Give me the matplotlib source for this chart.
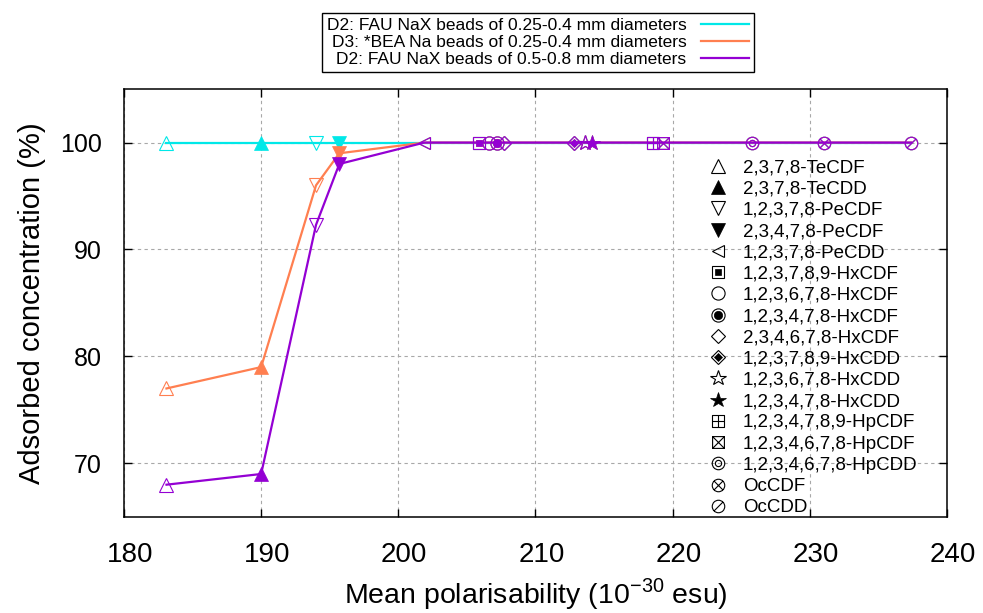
"""
Adsorbed concentration of PCDD/F congeners against mean polarisability.
"""
import matplotlib
matplotlib.use('Agg')
import matplotlib.pyplot as plt
import matplotlib.transforms as mtransforms
from matplotlib.lines import Line2D
from matplotlib.path import Path

plt.rcParams['font.family'] = ['Liberation Sans', 'DejaVu Sans']

congeners = ['2,3,7,8-TeCDF', '2,3,7,8-TeCDD', '1,2,3,7,8-PeCDF',
             '2,3,4,7,8-PeCDF', '1,2,3,7,8-PeCDD', '1,2,3,7,8,9-HxCDF',
             '1,2,3,6,7,8-HxCDF', '1,2,3,4,7,8-HxCDF', '2,3,4,6,7,8-HxCDF',
             '1,2,3,7,8,9-HxCDD', '1,2,3,6,7,8-HxCDD', '1,2,3,4,7,8-HxCDD',
             '1,2,3,4,7,8,9-HpCDF', '1,2,3,4,6,7,8-HpCDF',
             '1,2,3,4,6,7,8-HpCDD', 'OcCDF', 'OcCDD']
polarisability = [183.1, 190.0, 194.0, 195.7, 201.9, 205.9, 206.6, 207.2,
                  207.7, 212.8, 213.6, 214.1, 218.6, 219.3, 225.8, 231.0,
                  237.4]
fau_small = [100, 100, 100, 100, 100, 100, 100, 100, 100,
             100, 100, 100, 100, 100, 100, 100, 100]
bea_small = [77, 79, 96, 99, 100, 100, 100, 100, 100,
             100, 100, 100, 100, 100, 100, 100, 100]
fau_large = [68, 69, 92.3, 98, 100, 100, 100, 100, 100,
             100, 100, 100, 100, 100, 100, 100, 100]

series_labels = ['D2: FAU NaX beads of 0.25-0.4 mm diameters',
                 'D3: *BEA Na beads of 0.25-0.4 mm diameters',
                 'D2: FAU NaX beads of 0.5-0.8 mm diameters']
series_colors = ['#00e8e8', '#ff7f50', '#9400d3']


def compound(*parts):
    return Path.make_compound_path(*parts)


def seg(p0, p1):
    return Path([p0, p1], [Path.MOVETO, Path.LINETO])


square = Path([(-1, -1), (1, -1), (1, 1), (-1, 1), (-1, -1)],
              [Path.MOVETO, Path.LINETO, Path.LINETO, Path.LINETO,
               Path.CLOSEPOLY])
circle = Path.unit_circle()
d = 0.707
box_plus = compound(square, seg((0, -1), (0, 1)), seg((-1, 0), (1, 0)))
box_x = compound(square, seg((-1, -1), (1, 1)), seg((-1, 1), (1, -1)))
circ_x = compound(circle, seg((-d, -d), (d, d)), seg((-d, d), (d, -d)))
circ_slash = compound(circle, seg((-d, -d), (d, d)))
circ_circ = compound(circle, Path(circle.vertices * 0.5, circle.codes))

# (marker, filled, size) layers for each congener
marker_layers = [
    [('^', False, 9.5)],
    [('^', True, 9.5)],
    [('v', False, 9.5)],
    [('v', True, 9.5)],
    [('<', False, 8)],
    [('s', False, 8.5), ('s', True, 4.5)],
    [('o', False, 9.5)],
    [('o', False, 9.5), ('o', True, 6)],
    [('D', False, 7)],
    [('D', False, 7), ('D', True, 3.8)],
    [('*', False, 11.5)],
    [('*', True, 11.5)],
    [(box_plus, False, 8.5)],
    [(box_x, False, 8.5)],
    [(circ_circ, False, 9)],
    [(circ_x, False, 9)],
    [(circ_slash, False, 9)],
]


def draw_marker(ax, x, y, layers, color):
    for m, filled, size in layers:
        ax.plot([x], [y], linestyle='none', marker=m, markersize=size,
                markeredgecolor=color,
                markerfacecolor=color if filled else 'none',
                markeredgewidth=0.5 if filled else 0.8)


fig = plt.figure(figsize=(9.83, 6.13), dpi=100)
ax = fig.add_axes([0.1261, 0.157, 0.8373, 0.6976])

series = [fau_small, bea_small, fau_large]
line_handles = []
for values, label, color in zip(series, series_labels, series_colors):
    h, = ax.plot(polarisability, values, color=color, linewidth=1.6,
                 label=label)
    line_handles.append(h)
    for x, y, layers in zip(polarisability, values, marker_layers):
        draw_marker(ax, x, y, layers, color)

ax.set_xlim(180, 240)
ax.set_ylim(65, 105)
ax.set_xticks(range(180, 241, 10))
ax.set_yticks([70, 80, 90, 100])
ax.grid(True, color='#a8a8a8', linestyle=(0, (3, 3)), linewidth=0.8)
ax.set_axisbelow(True)
ax.tick_params(direction='in', length=6, width=1, top=True, right=True)
ax.tick_params(axis='x', pad=18, labelsize=20)
ax.tick_params(axis='y', pad=16, labelsize=18)
shift = mtransforms.ScaledTranslation(6 / 100, 0, fig.dpi_scale_trans)
for lab in ax.get_xticklabels():
    lab.set_transform(lab.get_transform() + shift)
for s in ax.spines.values():
    s.set_linewidth(1.1)

ax.set_xlabel('Mean polarisability (10$^{\\mathregular{-30}}$ esu)',
              fontsize=20.5, labelpad=6)
ax.set_ylabel('Adsorbed concentration (%)', fontsize=21, labelpad=10)

# congener key (black markers)
key_handles = []
for layers in marker_layers:
    hs = []
    for m, filled, size in layers:
        hs.append(Line2D([], [], linestyle='none', marker=m, markersize=size,
                         markeredgecolor='black',
                         markerfacecolor='black' if filled else 'none',
                         markeredgewidth=0.5 if filled else 0.8))
    key_handles.append(tuple(hs) if len(hs) > 1 else hs[0])
ax.legend(key_handles, congeners, loc='upper left',
          bbox_to_anchor=(0.712, 0.836), frameon=False, fontsize=13.5,
          handlelength=0.9, handletextpad=0.85, labelspacing=0.22,
          borderpad=0, borderaxespad=0)

fig.legend(line_handles, series_labels, loc='upper center',
           bbox_to_anchor=(538 / 983, 1 - 13 / 613), markerfirst=False,
           fontsize=12.5, handlelength=2.8, labelspacing=0.1, borderpad=0.3,
           borderaxespad=0, fancybox=False, edgecolor='black', framealpha=1)
fig.legends[0].get_frame().set_linewidth(1.0)

fig.savefig('out.png', dpi=100)
